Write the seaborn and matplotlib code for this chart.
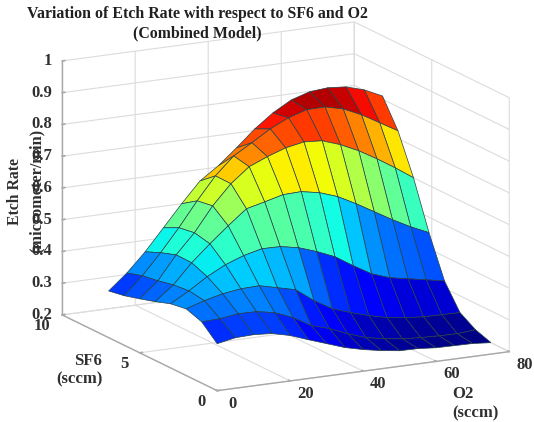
import numpy as np
import matplotlib
matplotlib.use('Agg')
import matplotlib.pyplot as plt
from matplotlib.colors import Normalize
from mpl_toolkits.mplot3d import proj3d
import seaborn as sns

o2_flow = [0, 5, 10, 15, 20, 25, 30, 35, 40, 45, 50, 55, 60, 65, 70, 75]
sf6_flow = [0, 1, 2, 3, 4, 5, 6, 7]

# etch rate, one row per SF6 value
rate_sf6_0 = [.348, .359, .361, .357, .343, .322, .302, .282, .268, .257, .249, .248, .243, .242, .241, .236]
rate_sf6_1 = [.393, .395, .403, .402, .391, .368, .335, .318, .294, .274, .263, .255, .251, .249, .248, .253]
rate_sf6_2 = [.410, .428, .442, .450, .452, .438, .424, .382, .349, .329, .312, .298, .290, .285, .284, .283]
rate_sf6_3 = [.402, .435, .472, .502, .523, .537, .536, .525, .505, .481, .445, .412, .392, .381, .370, .359]
rate_sf6_4 = [.385, .430, .492, .544, .593, .639, .653, .668, .670, .659, .639, .609, .576, .543, .513, .487]
rate_sf6_5 = [.370, .419, .493, .555, .632, .694, .740, .764, .784, .795, .791, .771, .744, .711, .675, .636]
rate_sf6_6 = [.356, .411, .476, .547, .624, .695, .750, .784, .820, .847, .865, .866, .852, .826, .793, .760]
rate_sf6_7 = [.347, .396, .455, .523, .591, .655, .695, .744, .796, .839, .872, .890, .895, .890, .873, .846]

o2_ticks = [0, 20, 40, 60, 80]
sf6_ticks = [0, 5, 10]
rate_ticks = [.2, .3, .4, .5, .6, .7, .8, .9, 1]
rate_tick_labels = ['0.2', '0.3', '0.4', '0.5', '0.6', '0.7', '0.8', '0.9', '1']

sns.set_theme(style='white')
plt.rcParams['font.family'] = ['Liberation Serif', 'DejaVu Serif']
text_color = '#303030'

fig = plt.figure(figsize=(5.34, 4.22), dpi=100)
ax = fig.add_axes([13 / 534, -1 / 422, 1, 1], projection='3d', proj_type='ortho')
ax.patch.set_alpha(0)

X, Y = np.meshgrid(o2_flow, sf6_flow)
Z = np.array([rate_sf6_0, rate_sf6_1, rate_sf6_2, rate_sf6_3,
              rate_sf6_4, rate_sf6_5, rate_sf6_6, rate_sf6_7])
# each facet takes the colour of its first corner
colors = plt.get_cmap('jet')(Normalize(Z.min(), Z.max())(Z))
ax.plot_surface(X, Y, Z, rstride=1, cstride=1, facecolors=colors,
                edgecolor='#26404a', linewidth=0.5, shade=False, antialiased=True)

ax.view_init(elev=14.8, azim=-117.6)
ax.set_box_aspect((330, 335, 263), zoom=1.238)
ax.set_xlim(0, 80, view_margin=0)
ax.set_ylim(0, 10, view_margin=0)
ax.set_zlim(.2, 1, view_margin=0)

ax.set_xticks(o2_ticks)
ax.set_yticks(sf6_ticks)
ax.set_zticks(rate_ticks)
ax.set_xticklabels([])
ax.set_yticklabels([])
ax.set_zticklabels([])

for axis in (ax.xaxis, ax.yaxis, ax.zaxis):
    axis.set_pane_color((1, 1, 1, 1))
    axis.pane.set_edgecolor('white')
    axis.line.set_color('#a8a8a8')
    axis.line.set_linewidth(1.0)
    axis._axinfo['grid']['color'] = '#dcdcdc'
    axis._axinfo['grid']['linewidth'] = 0.8
    axis._axinfo['tick']['inward_factor'] = 0.0
    axis._axinfo['tick']['outward_factor'] = 0.12
ax.tick_params(color='#a8a8a8')


def tick_label(x, y, z, text, dx, dy, ha):
    # mplot3d keeps its tick labels too far out, so they are placed from the tick foot
    px, py, _ = proj3d.proj_transform(x, y, z, ax.get_proj())
    ax.annotate(text, (px, py), xytext=(dx, dy), textcoords='offset pixels', ha=ha, va='center',
                fontsize=12, fontweight='bold', color=text_color, annotation_clip=False)


for o2 in o2_ticks:
    tick_label(o2, 0, .2, str(o2), 15, -13, 'center')
for sf6 in sf6_ticks:
    tick_label(0, sf6, .2, str(sf6), -11.5, -11, 'right')
for rate, text in zip(rate_ticks, rate_tick_labels):
    tick_label(0, 10, rate, text, -10, 0, 'right')

fig.text(0.369, 0.966, 'Variation of Etch Rate with respect to SF6 and O2', ha='center', va='center',
         fontsize=11.4, fontweight='bold', color='#202020')
fig.text(0.369, 0.921, '(Combined Model)', ha='center', va='center',
         fontsize=11.4, fontweight='bold', color='#202020')
fig.text(0.028, 0.547, 'Etch Rate', rotation=90, ha='center', va='center',
         fontsize=11.3, fontweight='bold', color=text_color)
fig.text(0.068, 0.547, '(micrometer/min)', rotation=90, ha='center', va='center',
         fontsize=11.8, fontweight='bold', color=text_color)
fig.text(0.165, 0.145, 'SF6', ha='center', va='center', fontsize=12, fontweight='bold', color=text_color)
fig.text(0.148, 0.10, '(sccm)', ha='center', va='center', fontsize=12, fontweight='bold', color=text_color)
fig.text(0.867, 0.066, 'O2', ha='center', va='center', fontsize=12, fontweight='bold', color=text_color)
fig.text(0.89, 0.021, '(sccm)', ha='center', va='center', fontsize=12, fontweight='bold', color=text_color)

fig.savefig('out.png', dpi=100)
